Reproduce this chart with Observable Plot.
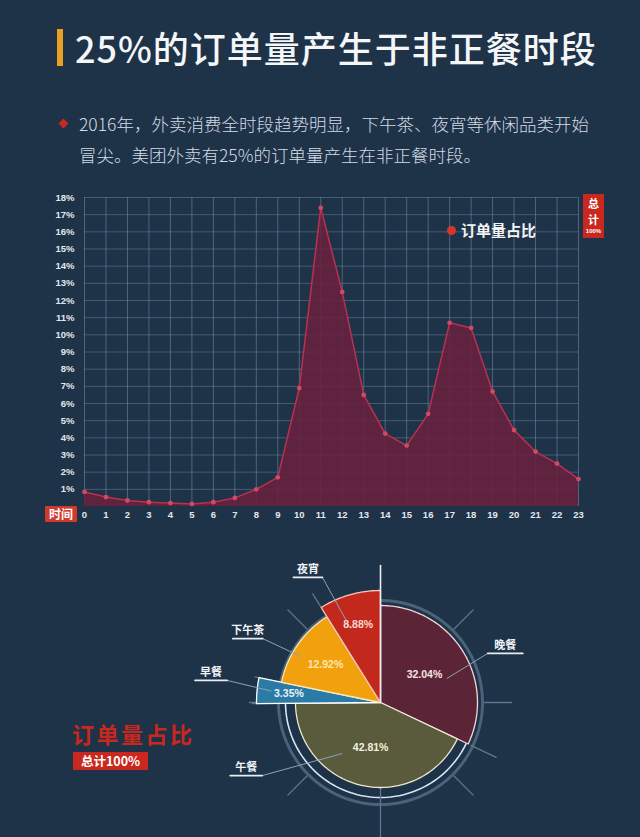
<!DOCTYPE html>
<html><head><meta charset="utf-8">
<script src="https://cdn.jsdelivr.net/npm/d3@7"></script>
<script src="https://cdn.jsdelivr.net/npm/@observablehq/plot@0.6"></script>
<style>
html,body{margin:0;padding:0;background:#1e3248;}
#page{position:relative;width:640px;height:837px;overflow:hidden;background:#1e3248;font-family:"Noto Sans CJK SC","Noto Sans",sans-serif;}
.abs{position:absolute;}
#bar{left:57px;top:29px;width:6px;height:37px;background:#e9a21f;}
#title{left:75px;top:21px;font-size:36px;letter-spacing:1px;color:#f4f6f8;line-height:52px;white-space:nowrap;font-weight:500;}
#diamond{left:60px;top:120px;width:7px;height:7px;background:#c8281e;transform:rotate(45deg);}
#sub{left:79px;top:108px;font-size:17.5px;color:#d3dbe3;line-height:31px;white-space:nowrap;font-weight:300;}
#area{left:0;top:180px;}
#pie{left:0;top:540px;}
#timebox{left:45px;top:506px;width:32px;height:16px;background:#d03a2c;color:#fff;font-size:12px;font-weight:bold;line-height:16px;text-align:center;border-radius:1px;}
#legend{left:447px;top:220px;color:#f2f4f6;font-size:15px;font-weight:bold;line-height:20px;white-space:nowrap;}
#legend span{display:inline-block;width:9px;height:9px;border-radius:50%;background:#d9342b;margin-right:5px;vertical-align:1px;}
#total{left:583px;top:194px;width:21px;height:44px;background:#c8281e;color:#fff;text-align:center;font-weight:bold;overflow:hidden;}
#total .c{font-size:11px;line-height:16px;height:16px;}
#total .n{font-size:6px;line-height:9px;height:9px;font-family:"Liberation Sans",Arial,sans-serif;}
#bigtxt{left:72px;top:717px;color:#c8281e;font-size:22px;font-weight:bold;letter-spacing:2.5px;line-height:32px;white-space:nowrap;}
#totbox{left:73px;top:752px;width:75px;height:18px;background:#c8281e;color:#fff;font-size:12.5px;font-weight:bold;line-height:18px;text-align:center;white-space:nowrap;}
</style>
</head><body>
<div id="page">
  <div class="abs" id="bar"></div>
  <div class="abs" id="title">25%的订单量产生于非正餐时段</div>
  <div class="abs" id="diamond"></div>
  <div class="abs" id="sub">2016年，外卖消费全时段趋势明显，下午茶、夜宵等休闲品类开始<br>冒尖。美团外卖有25%的订单量产生在非正餐时段。</div>
  <div class="abs" id="area"></div>
  <div class="abs" id="timebox">时间</div>
  <div class="abs" id="legend"><span></span>订单量占比</div>
  <div class="abs" id="total"><div class="c" style="margin-top:1px">总</div><div class="c">计</div><div class="n">100%</div></div>
  <div class="abs" id="pie"></div>
  <div class="abs" id="bigtxt">订单量占比</div>
  <div class="abs" id="totbox">总计100%</div>
</div>
<script>
// ---------- data ----------
const hours = [0,1,2,3,4,5,6,7,8,9,10,11,12,13,14,15,16,17,18,19,20,21,22,23];
const share = [0.85,0.55,0.35,0.25,0.2,0.15,0.25,0.5,1.0,1.7,6.9,17.4,12.5,6.5,4.25,3.55,5.4,10.7,10.4,6.7,4.45,3.2,2.5,1.6];
const yTicks = [1,2,3,4,5,6,7,8,9,10,11,12,13,14,15,16,17,18];

const meals = ["晚餐","午餐","早餐","下午茶","夜宵"];
const mealShare = [32.04, 42.81, 3.35, 12.92, 8.88];

// ---------- styles / layout ----------
const mealColor = ["#5c2537","#5a5a3c","#2a7ba6","#f2a10e","#c3281d"];
const mealStroke = ["#f2d6d8","#efe6cf","#ffffff","#f8e6b8","#f4c8c0"];
const mealRadius = [97, 85, 124, 101, 112];
const pctRadius = [52, 46, 92, 67, 81];
const pctColor = ["#f6e4e4","#f4f0dc","#e8f2f8","#fde6b0","#fcd8cc"];
const leaderIn = [[70,71],[217,64],[276,110],[300,92],[338,80]];   // [angle, radius]
const leaderOut = [[65.4,118],[238.3,139],[278.2,155],[298.5,134],[335.1,138]];
const leaderDir = [1,-1,-1,-1,-1];
const leaderLen = [35,32,32,30,29];

// ---------- area chart ----------
const rows = hours.map((h,i) => ({hour: h, value: share[i]}));
const area = Plot.plot({
  width: 640, height: 350,
  marginLeft: 84, marginRight: 62, marginTop: 17, marginBottom: 24,
  style: {background: "transparent", color: "#e2e8ee", fontFamily: "'Liberation Sans', Arial, sans-serif", fontSize: "9.5px", fontWeight: "bold"},
  x: {domain: [0, 23], ticks: hours, tickSize: 0, tickPadding: 5, label: null, tickFormat: d => String(d)},
  y: {domain: [0, 18], ticks: yTicks, tickSize: 0, tickPadding: 10, label: null, tickFormat: d => d + "%"},
  marks: [
    Plot.ruleX(hours, {stroke: "#7690a6", strokeOpacity: 0.55, strokeWidth: 1}),
    Plot.ruleY(yTicks, {stroke: "#7690a6", strokeOpacity: 0.45, strokeWidth: 1}),
    Plot.areaY(rows, {x: "hour", y: "value", fill: "#6a1f3e", fillOpacity: 0.86}),
    Plot.lineY(rows, {x: "hour", y: "value", stroke: "#b8324f", strokeWidth: 1.5}),
    Plot.dot(rows, {x: "hour", y: "value", r: 2.4, fill: "#d04a63"})
  ]
});
document.getElementById("area").appendChild(area);

// ---------- pie chart ----------
const pie = d3.pie().sort(null).value(d => d)(mealShare);
const deg = Math.PI / 180;
const polar = (a, r) => ({x: r * Math.sin(a * deg), y: r * Math.cos(a * deg)});

const slicePts = [];
pie.forEach((p, i) => {
  const a0 = p.startAngle / deg, a1 = p.endAngle / deg, r = mealRadius[i];
  slicePts.push({k: i, x: 0, y: 0});
  const n = Math.max(2, Math.ceil((a1 - a0) / 1));
  for (let j = 0; j <= n; j++) {
    const q = polar(a0 + (a1 - a0) * j / n, r);
    slicePts.push({k: i, x: q.x, y: q.y});
  }
  slicePts.push({k: i, x: 0, y: 0});
});

const ringPts = (r, k) => d3.range(0, 361, 2).map(a => ({k, ...polar(a, r)}));
const rings = [...ringPts(95, "a"), ...ringPts(102, "b")];

// decorative radial ticks + boundary extensions
const tickSegs = [];
[45, 90, 135, 180, 225, 270, 315].forEach((a, i) => {
  const r0 = a === 180 ? 86 : 104, r1 = a === 180 ? 135 : 131;
  tickSegs.push({k: "t" + i, ...polar(a, r0)}, {k: "t" + i, ...polar(a, r1)});
});
pie.forEach((p, i) => {
  const a = p.startAngle / deg;
  if (i === 0) return;
  tickSegs.push({k: "b" + i, ...polar(a, 100)}, {k: "b" + i, ...polar(a, 128)});
});
const topLine = [{k: "top", ...polar(0, 0)}, {k: "top", ...polar(0, 137)}];

const leaderPts = [], underPts = [], nameLabels = [];
meals.forEach((m, i) => {
  const a = polar(leaderIn[i][0], leaderIn[i][1]);
  const b = polar(leaderOut[i][0], leaderOut[i][1]);
  const c = {x: b.x + leaderDir[i] * leaderLen[i], y: b.y};
  leaderPts.push({k: i, ...a}, {k: i, ...b});
  underPts.push({k: i, ...b}, {k: i, ...c});
  nameLabels.push({name: m, x: (b.x + c.x) / 2, y: b.y + 8});
});

const pctLabels = pie.map((p, i) => {
  const mid = (p.startAngle + p.endAngle) / 2 / deg;
  return {text: mealShare[i].toFixed(2) + "%", fill: pctColor[i], ...polar(mid, pctRadius[i])};
});

const pieSlices = slicePts.map(d => ({...d, fill: mealColor[d.k], stroke: mealStroke[d.k]}));

const pieChart = Plot.plot({
  width: 640, height: 297,
  margin: 0,
  style: {background: "transparent", fontFamily: "'Liberation Sans', 'Noto Sans CJK SC', sans-serif"},
  x: {domain: [-380, 260], range: [0, 640], axis: null},
  y: {domain: [-135, 162], range: [297, 0], axis: null},
  color: {type: "identity"},
  marks: [
    Plot.line(rings.filter(d => d.k === "b"), {x: "x", y: "y", stroke: "#4a6378", strokeWidth: 3}),
    Plot.line(rings.filter(d => d.k === "a"), {x: "x", y: "y", stroke: "#d8e6f2", strokeWidth: 1.6}),
    Plot.line(tickSegs, {x: "x", y: "y", z: "k", stroke: "#5f788e", strokeWidth: 1.3}),
    Plot.line(pieSlices, {x: "x", y: "y", z: "k", fill: "fill", stroke: "stroke", strokeWidth: 1.3, strokeLinejoin: "round"}),
    Plot.line(topLine, {x: "x", y: "y", z: "k", stroke: "#e8eef4", strokeWidth: 1.6}),
    Plot.line(leaderPts, {x: "x", y: "y", z: "k", stroke: "#8ea2b6", strokeWidth: 1}),
    Plot.line(underPts, {x: "x", y: "y", z: "k", stroke: "#e6edf3", strokeWidth: 1.8}),
    Plot.text(nameLabels, {x: "x", y: "y", text: "name", fill: "#f2f5f8", fontSize: 11, fontWeight: "bold", fontFamily: "'Noto Sans CJK SC', sans-serif"}),
    Plot.text(pctLabels, {x: "x", y: "y", text: "text", fill: "fill", fontSize: 10.5, fontWeight: "bold"})
  ]
});
document.getElementById("pie").appendChild(pieChart);
</script>
</body></html>
